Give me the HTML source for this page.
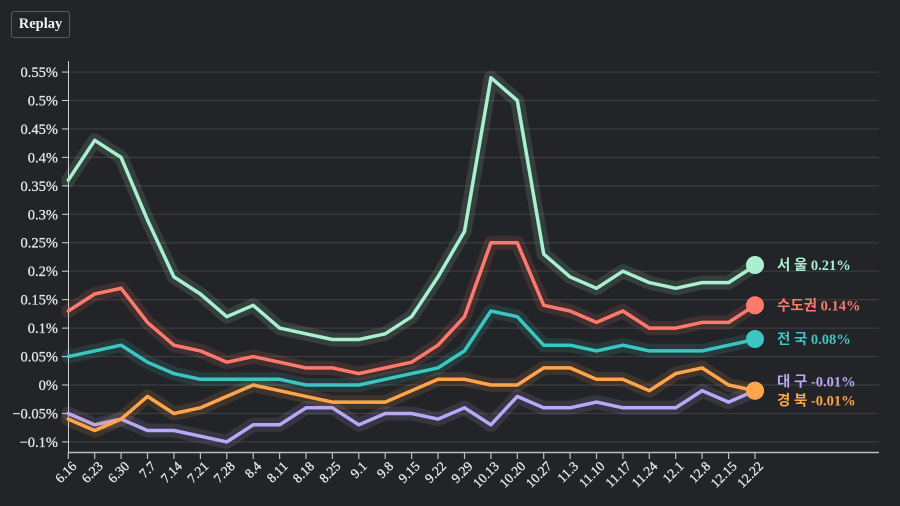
<!DOCTYPE html>
<html><head><meta charset="utf-8"><style>
html,body{margin:0;padding:0;background:#232428;}
body{width:900px;height:506px;overflow:hidden;position:relative;font-family:"Liberation Serif","Noto Serif CJK SC",serif;}
.btn{position:absolute;left:11px;top:11px;width:59px;height:27px;box-sizing:border-box;border:1px solid #5a5b5f;border-radius:3px;color:#f2f2f2;font-weight:bold;font-size:14.5px;line-height:25px;text-align:center;}
svg{position:absolute;left:0;top:0;}
.yl{font-size:14.5px;fill:#e8e8e8;text-anchor:end;stroke:#e8e8e8;stroke-width:0.25;}
.xl{font-size:13.5px;fill:#e8e8e8;text-anchor:end;stroke:#e8e8e8;stroke-width:0.3;}
.lab{font-size:14.5px;font-weight:bold;font-family:"Liberation Serif","Noto Sans CJK KR",serif;}
</style></head><body>
<div class="btn">Replay</div>
<svg width="900" height="506" viewBox="0 0 900 506">
<g stroke="#3b3c40" stroke-width="1.2">
<line x1="68" x2="879" y1="72.05" y2="72.05"/>
<line x1="68" x2="879" y1="100.5" y2="100.5"/>
<line x1="68" x2="879" y1="128.95" y2="128.95"/>
<line x1="68" x2="879" y1="157.4" y2="157.4"/>
<line x1="68" x2="879" y1="185.85" y2="185.85"/>
<line x1="68" x2="879" y1="214.3" y2="214.3"/>
<line x1="68" x2="879" y1="242.75" y2="242.75"/>
<line x1="68" x2="879" y1="271.2" y2="271.2"/>
<line x1="68" x2="879" y1="299.65" y2="299.65"/>
<line x1="68" x2="879" y1="328.1" y2="328.1"/>
<line x1="68" x2="879" y1="356.55" y2="356.55"/>
<line x1="68" x2="879" y1="385" y2="385"/>
<line x1="68" x2="879" y1="413.45" y2="413.45"/>
<line x1="68" x2="879" y1="441.9" y2="441.9"/>
</g>
<g stroke="#d0d0d0" stroke-width="1">
<line x1="62" x2="68" y1="72.05" y2="72.05"/>
<line x1="62" x2="68" y1="100.5" y2="100.5"/>
<line x1="62" x2="68" y1="128.95" y2="128.95"/>
<line x1="62" x2="68" y1="157.4" y2="157.4"/>
<line x1="62" x2="68" y1="185.85" y2="185.85"/>
<line x1="62" x2="68" y1="214.3" y2="214.3"/>
<line x1="62" x2="68" y1="242.75" y2="242.75"/>
<line x1="62" x2="68" y1="271.2" y2="271.2"/>
<line x1="62" x2="68" y1="299.65" y2="299.65"/>
<line x1="62" x2="68" y1="328.1" y2="328.1"/>
<line x1="62" x2="68" y1="356.55" y2="356.55"/>
<line x1="62" x2="68" y1="385" y2="385"/>
<line x1="62" x2="68" y1="413.45" y2="413.45"/>
<line x1="62" x2="68" y1="441.9" y2="441.9"/>
<line x1="68.5" x2="68.5" y1="61" y2="452.5"/>
</g>
<g class="yl">
<text x="58" y="77">0.55%</text>
<text x="58" y="105.5">0.5%</text>
<text x="58" y="134">0.45%</text>
<text x="58" y="162.4">0.4%</text>
<text x="58" y="190.8">0.35%</text>
<text x="58" y="219.3">0.3%</text>
<text x="58" y="247.7">0.25%</text>
<text x="58" y="276.2">0.2%</text>
<text x="58" y="304.6">0.15%</text>
<text x="58" y="333.1">0.1%</text>
<text x="58" y="361.5">0.05%</text>
<text x="58" y="390">0%</text>
<text x="58" y="418.4">−0.05%</text>
<text x="58" y="446.9">−0.1%</text>
</g>
<g stroke="#bdbdbd" stroke-width="1.5">
<line x1="68" x2="879" y1="452.5" y2="452.5"/>
</g>
<g stroke="#bdbdbd" stroke-width="1.2">
<line x1="68.3" x2="68.3" y1="452" y2="459"/><line x1="94.7" x2="94.7" y1="452" y2="459"/><line x1="121.1" x2="121.1" y1="452" y2="459"/><line x1="147.5" x2="147.5" y1="452" y2="459"/><line x1="173.9" x2="173.9" y1="452" y2="459"/><line x1="200.4" x2="200.4" y1="452" y2="459"/><line x1="226.8" x2="226.8" y1="452" y2="459"/><line x1="253.2" x2="253.2" y1="452" y2="459"/><line x1="279.6" x2="279.6" y1="452" y2="459"/><line x1="306" x2="306" y1="452" y2="459"/><line x1="332.4" x2="332.4" y1="452" y2="459"/><line x1="358.8" x2="358.8" y1="452" y2="459"/><line x1="385.2" x2="385.2" y1="452" y2="459"/><line x1="411.6" x2="411.6" y1="452" y2="459"/><line x1="438" x2="438" y1="452" y2="459"/><line x1="464.5" x2="464.5" y1="452" y2="459"/><line x1="490.9" x2="490.9" y1="452" y2="459"/><line x1="517.3" x2="517.3" y1="452" y2="459"/><line x1="543.7" x2="543.7" y1="452" y2="459"/><line x1="570.1" x2="570.1" y1="452" y2="459"/><line x1="596.5" x2="596.5" y1="452" y2="459"/><line x1="622.9" x2="622.9" y1="452" y2="459"/><line x1="649.3" x2="649.3" y1="452" y2="459"/><line x1="675.7" x2="675.7" y1="452" y2="459"/><line x1="702.1" x2="702.1" y1="452" y2="459"/><line x1="728.6" x2="728.6" y1="452" y2="459"/><line x1="755" x2="755" y1="452" y2="459"/>
</g>
<g class="xl">
<text transform="translate(77.3,467) rotate(-45)">6.16</text>
<text transform="translate(103.7,467) rotate(-45)">6.23</text>
<text transform="translate(130.1,467) rotate(-45)">6.30</text>
<text transform="translate(156.5,467) rotate(-45)">7.7</text>
<text transform="translate(182.9,467) rotate(-45)">7.14</text>
<text transform="translate(209.4,467) rotate(-45)">7.21</text>
<text transform="translate(235.8,467) rotate(-45)">7.28</text>
<text transform="translate(262.2,467) rotate(-45)">8.4</text>
<text transform="translate(288.6,467) rotate(-45)">8.11</text>
<text transform="translate(315,467) rotate(-45)">8.18</text>
<text transform="translate(341.4,467) rotate(-45)">8.25</text>
<text transform="translate(367.8,467) rotate(-45)">9.1</text>
<text transform="translate(394.2,467) rotate(-45)">9.8</text>
<text transform="translate(420.6,467) rotate(-45)">9.15</text>
<text transform="translate(447,467) rotate(-45)">9.22</text>
<text transform="translate(473.5,467) rotate(-45)">9.29</text>
<text transform="translate(499.9,467) rotate(-45)">10.13</text>
<text transform="translate(526.3,467) rotate(-45)">10.20</text>
<text transform="translate(552.7,467) rotate(-45)">10.27</text>
<text transform="translate(579.1,467) rotate(-45)">11.3</text>
<text transform="translate(605.5,467) rotate(-45)">11.10</text>
<text transform="translate(631.9,467) rotate(-45)">11.17</text>
<text transform="translate(658.3,467) rotate(-45)">11.24</text>
<text transform="translate(684.7,467) rotate(-45)">12.1</text>
<text transform="translate(711.1,467) rotate(-45)">12.8</text>
<text transform="translate(737.6,467) rotate(-45)">12.15</text>
<text transform="translate(764,467) rotate(-45)">12.22</text>
</g>
<g fill="none" stroke-linejoin="round" stroke-linecap="round">
<!-- lavender -->
<polyline stroke="#b9a8f5" stroke-opacity="0.13" stroke-width="14" points="68.3,413.5 94.7,424.8 121.1,419.1 147.5,430.5 173.9,430.5 200.4,436.2 226.8,441.9 253.2,424.8 279.6,424.8 306,407.8 332.4,407.8 358.8,424.8 385.2,413.5 411.6,413.5 438,419.1 464.5,407.8 490.9,424.8 517.3,396.4 543.7,407.8 570.1,407.8 596.5,402.1 622.9,407.8 649.3,407.8 675.7,407.8 702.1,390.7 728.6,402.1 755,390.7"/>
<polyline stroke="#b9a8f5" stroke-width="3.5" points="68.3,413.5 94.7,424.8 121.1,419.1 147.5,430.5 173.9,430.5 200.4,436.2 226.8,441.9 253.2,424.8 279.6,424.8 306,407.8 332.4,407.8 358.8,424.8 385.2,413.5 411.6,413.5 438,419.1 464.5,407.8 490.9,424.8 517.3,396.4 543.7,407.8 570.1,407.8 596.5,402.1 622.9,407.8 649.3,407.8 675.7,407.8 702.1,390.7 728.6,402.1 755,390.7"/>
<!-- orange -->
<polyline stroke="#ffa64d" stroke-opacity="0.13" stroke-width="14" points="68.3,419.1 94.7,430.5 121.1,419.1 147.5,396.4 173.9,413.5 200.4,407.8 226.8,396.4 253.2,385 279.6,390.7 306,396.4 332.4,402.1 358.8,402.1 385.2,402.1 411.6,390.7 438,379.3 464.5,379.3 490.9,385 517.3,385 543.7,367.9 570.1,367.9 596.5,379.3 622.9,379.3 649.3,390.7 675.7,373.6 702.1,367.9 728.6,385 755,390.7"/>
<polyline stroke="#ffa64d" stroke-width="3.5" points="68.3,419.1 94.7,430.5 121.1,419.1 147.5,396.4 173.9,413.5 200.4,407.8 226.8,396.4 253.2,385 279.6,390.7 306,396.4 332.4,402.1 358.8,402.1 385.2,402.1 411.6,390.7 438,379.3 464.5,379.3 490.9,385 517.3,385 543.7,367.9 570.1,367.9 596.5,379.3 622.9,379.3 649.3,390.7 675.7,373.6 702.1,367.9 728.6,385 755,390.7"/>
<!-- teal -->
<polyline stroke="#3cc6c2" stroke-opacity="0.13" stroke-width="14" points="68.3,356.6 94.7,350.9 121.1,345.2 147.5,362.2 173.9,373.6 200.4,379.3 226.8,379.3 253.2,379.3 279.6,379.3 306,385 332.4,385 358.8,385 385.2,379.3 411.6,373.6 438,367.9 464.5,350.9 490.9,311 517.3,316.7 543.7,345.2 570.1,345.2 596.5,350.9 622.9,345.2 649.3,350.9 675.7,350.9 702.1,350.9 728.6,345.2 755,339.5"/>
<polyline stroke="#3cc6c2" stroke-width="3.5" points="68.3,356.6 94.7,350.9 121.1,345.2 147.5,362.2 173.9,373.6 200.4,379.3 226.8,379.3 253.2,379.3 279.6,379.3 306,385 332.4,385 358.8,385 385.2,379.3 411.6,373.6 438,367.9 464.5,350.9 490.9,311 517.3,316.7 543.7,345.2 570.1,345.2 596.5,350.9 622.9,345.2 649.3,350.9 675.7,350.9 702.1,350.9 728.6,345.2 755,339.5"/>
<!-- salmon -->
<polyline stroke="#ff7a6b" stroke-opacity="0.13" stroke-width="14" points="68.3,311 94.7,294 121.1,288.3 147.5,322.4 173.9,345.2 200.4,350.9 226.8,362.2 253.2,356.6 279.6,362.2 306,367.9 332.4,367.9 358.8,373.6 385.2,367.9 411.6,362.2 438,345.2 464.5,316.7 490.9,242.8 517.3,242.8 543.7,305.3 570.1,311 596.5,322.4 622.9,311 649.3,328.1 675.7,328.1 702.1,322.4 728.6,322.4 755,305.3"/>
<polyline stroke="#ff7a6b" stroke-width="3.5" points="68.3,311 94.7,294 121.1,288.3 147.5,322.4 173.9,345.2 200.4,350.9 226.8,362.2 253.2,356.6 279.6,362.2 306,367.9 332.4,367.9 358.8,373.6 385.2,367.9 411.6,362.2 438,345.2 464.5,316.7 490.9,242.8 517.3,242.8 543.7,305.3 570.1,311 596.5,322.4 622.9,311 649.3,328.1 675.7,328.1 702.1,322.4 728.6,322.4 755,305.3"/>
<!-- mint -->
<polyline stroke="#a8f0d0" stroke-opacity="0.13" stroke-width="14" points="68.3,180.2 94.7,140.3 121.1,157.4 147.5,220 173.9,276.9 200.4,294 226.8,316.7 253.2,305.3 279.6,328.1 306,333.8 332.4,339.5 358.8,339.5 385.2,333.8 411.6,316.7 438,276.9 464.5,231.4 490.9,77.7 517.3,100.5 543.7,254.1 570.1,276.9 596.5,288.3 622.9,271.2 649.3,282.6 675.7,288.3 702.1,282.6 728.6,282.6 755,265.5"/>
<polyline stroke="#a8f0d0" stroke-width="3.5" points="68.3,180.2 94.7,140.3 121.1,157.4 147.5,220 173.9,276.9 200.4,294 226.8,316.7 253.2,305.3 279.6,328.1 306,333.8 332.4,339.5 358.8,339.5 385.2,333.8 411.6,316.7 438,276.9 464.5,231.4 490.9,77.7 517.3,100.5 543.7,254.1 570.1,276.9 596.5,288.3 622.9,271.2 649.3,282.6 675.7,288.3 702.1,282.6 728.6,282.6 755,265.5"/>
</g>
<circle cx="755" cy="390.7" r="9" fill="#b9a8f5"/>
<circle cx="755" cy="390.7" r="9" fill="#ffa64d"/>
<circle cx="755" cy="339" r="9" fill="#3cc6c2"/>
<circle cx="755" cy="305.3" r="9" fill="#ff7a6b"/>
<circle cx="755" cy="265" r="9" fill="#a8f0d0"/>
<g class="lab">
<text x="777" y="270" fill="#a8f0d0">서 울 0.21%</text>
<text x="777" y="310.5" fill="#ff7a6b">수도권 0.14%</text>
<text x="777" y="344" fill="#3cc6c2">전 국 0.08%</text>
<text x="777" y="386.5" fill="#b9a8f5">대 구 -0.01%</text>
<text x="777" y="405.5" fill="#ffa64d">경 북 -0.01%</text>
</g>
</svg>
</body></html>
